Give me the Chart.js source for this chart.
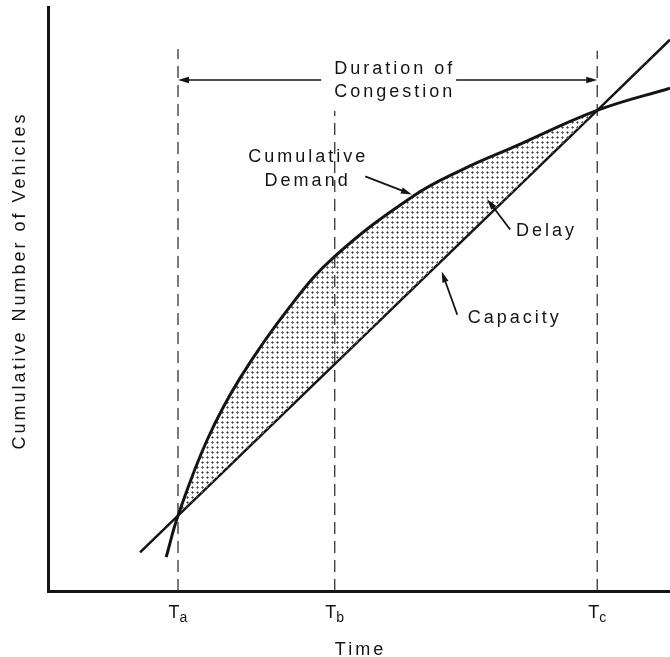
<!DOCTYPE html>
<html>
<head>
<meta charset="utf-8">
<script src="https://cdn.jsdelivr.net/npm/chart.js@4.4.1/dist/chart.umd.min.js"></script>
<style>
  html, body { margin: 0; padding: 0; background: #fff; }
  canvas { display: block; }
</style>
</head>
<body>
<canvas id="canvas" width="670" height="657"></canvas>
<script>
"use strict";

// marks on the time axis: T_a, T_b, T_c
const markNames = ['a', 'b', 'c'];
const markTimes = [20.9, 46.1, 88.3];

// cumulative demand curve
const demandTime = [19.0, 20.9, 25.6, 30.9, 38.9, 46.1, 58.7, 66.7, 74.8, 88.3, 100];
const demandVehicles = [5.8, 12.9, 25.9, 36.5, 48.7, 57.3, 67.6, 72.2, 76.0, 82.3, 86.1];

// capacity line
const capacityTime = [14.8, 20.9, 88.3, 100];
const capacityVehicles = [6.6, 12.9, 82.3, 94.4];

// where the dashed guides stop at the top
const guideTop = [92.8, 82.2, 92.5];

const ink = '#141414';
const FONT = '"Liberation Sans", Arial, Helvetica, sans-serif';

const canvas = document.getElementById("canvas");
const ctx = canvas.getContext("2d");

// small grey dot pattern for the delay area
function dotPattern() {
  const c = document.createElement('canvas');
  c.width = 5;
  c.height = 5;
  const g = c.getContext('2d');
  g.fillStyle = '#7c7c7c';
  g.fillRect(2, 1, 1, 3);
  g.fillRect(1, 2, 3, 1);
  g.fillStyle = '#4a4a4a';
  g.fillRect(2, 2, 1, 1);
  return ctx.createPattern(c, 'repeat');
}

const toPts = (xs, ys) => xs.map((x, i) => ({ x: x, y: ys[i] }));

function arrow(c, x0, y0, x1, y1, w) {
  const a = Math.atan2(y1 - y0, x1 - x0);
  const len = 11, half = 3.2;
  const cs = Math.cos(a), sn = Math.sin(a);
  c.lineWidth = w;
  c.beginPath();
  c.moveTo(x0, y0);
  c.lineTo(x1 - cs * len * 0.7, y1 - sn * len * 0.7);
  c.stroke();
  c.beginPath();
  c.moveTo(x1, y1);
  c.lineTo(x1 - cs * len + sn * half, y1 - sn * len - cs * half);
  c.lineTo(x1 - cs * len - sn * half, y1 - sn * len + cs * half);
  c.closePath();
  c.fill();
}

// text notes, centred at (time, vehicles)
const notes = [
  { text: 'Duration of', x: 55.5, y: 89.4 },
  { text: 'Congestion', x: 55.5, y: 85.4 },
  { text: 'Cumulative', x: 41.6, y: 74.3 },
  { text: 'Demand', x: 41.5, y: 70.2 },
  { text: 'Delay', x: 79.9, y: 61.6 },
  { text: 'Capacity', x: 74.8, y: 46.8 }
];

// pointer arrows [fromX, fromY, toX, toY]
const pointers = [
  [51.0, 71.0, 58.5, 67.9],
  [74.3, 61.9, 70.6, 67.1],
  [65.8, 47.3, 63.3, 54.7],
  [43.9, 87.5, markTimes[0], 87.5],
  [65.6, 87.5, markTimes[2], 87.5]
];

const notesPlugin = {
  id: 'notes',
  beforeDraw(chart) {
    const c = chart.ctx;
    c.save();
    c.fillStyle = '#fff';
    c.fillRect(0, 0, chart.width, chart.height);
    c.restore();
  },
  afterDraw(chart) {
    const c = chart.ctx;
    const xs = chart.scales.x, ys = chart.scales.y;
    const area = chart.chartArea;
    c.save();
    c.fillStyle = ink;
    c.strokeStyle = ink;
    c.letterSpacing = '3px';
    c.font = '18px ' + FONT;
    c.textAlign = 'center';
    c.textBaseline = 'middle';
    notes.forEach(n => {
      c.fillText(n.text, xs.getPixelForValue(n.x) + 1.5, ys.getPixelForValue(n.y));
    });

    pointers.forEach((p, i) => {
      arrow(c, xs.getPixelForValue(p[0]), ys.getPixelForValue(p[1]),
        xs.getPixelForValue(p[2]), ys.getPixelForValue(p[3]), i > 2 ? 1.4 : 1.8);
    });

    // time marks T_a, T_b, T_c
    c.textBaseline = 'alphabetic';
    c.textAlign = 'left';
    c.letterSpacing = '0px';
    markTimes.forEach((t, i) => {
      const px = xs.getPixelForValue(t);
      c.font = '18px ' + FONT;
      const wT = c.measureText('T').width;
      c.font = '14px ' + FONT;
      const wS = c.measureText(markNames[i]).width;
      const x0 = px - (wT + wS) / 2;
      c.font = '18px ' + FONT;
      c.fillText('T', x0, area.bottom + 27);
      c.font = '14px ' + FONT;
      c.fillText(markNames[i], x0 + wT, area.bottom + 31);
    });

    // axis titles
    c.letterSpacing = '3px';
    c.font = '18px ' + FONT;
    c.textAlign = 'center';
    c.fillText('Time', (area.left + area.right) / 2 + 1.5, area.bottom + 64);
    c.translate(25, area.top + 275);
    c.rotate(-Math.PI / 2);
    c.fillText('Cumulative Number of Vehicles', 1.5, 0);
    c.restore();
  }
};

const guides = markTimes.map((t, i) => ({
  label: 'T' + markNames[i],
  data: [{ x: t, y: 0 }, { x: t, y: guideTop[i] }],
  borderColor: '#333',
  borderWidth: 1.3,
  borderDash: [12, 7],
  pointRadius: 0,
  fill: false
}));

let myChart = new Chart(ctx, {
  type: 'line',
  data: {
    datasets: [{
      label: 'Cumulative Demand',
      data: toPts(demandTime, demandVehicles),
      borderColor: ink,
      borderWidth: 3,
      pointRadius: 0,
      tension: 0.4,
      fill: { target: 1, above: dotPattern(), below: 'rgba(0,0,0,0)' }
    }, {
      label: 'Capacity',
      data: toPts(capacityTime, capacityVehicles),
      borderColor: ink,
      borderWidth: 2.5,
      pointRadius: 0,
      tension: 0,
      fill: false
    }].concat(guides)
  },
  options: {
    responsive: false,
    animation: false,
    events: [],
    layout: { padding: { left: 48, top: 7, right: 0, bottom: 66 } },
    plugins: {
      legend: { display: false },
      tooltip: { enabled: false }
    },
    scales: {
      x: {
        type: 'linear', min: 0, max: 100,
        grid: { display: false, drawTicks: false },
        ticks: { display: false },
        border: { display: true, color: ink, width: 3 }
      },
      y: {
        type: 'linear', min: 0, max: 100,
        grid: { display: false, drawTicks: false },
        ticks: { display: false },
        border: { display: true, color: ink, width: 3 }
      }
    }
  },
  plugins: [notesPlugin]
});
</script>
</body>
</html>
